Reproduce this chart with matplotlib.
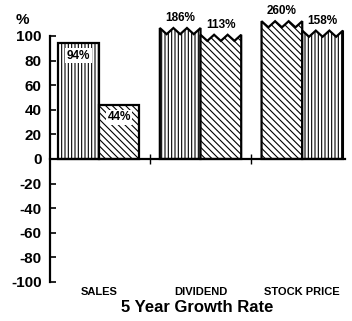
import numpy as np
import matplotlib.pyplot as plt
from matplotlib.patches import Polygon
from matplotlib.transforms import blended_transform_factory

plt.rcParams['font.family'] = ['Liberation Sans', 'DejaVu Sans']
plt.rcParams['font.weight'] = 'bold'
plt.rcParams['hatch.linewidth'] = 0.8

categories = ["SALES", "DIVIDEND", "STOCK PRICE"]
first_values = [94, 186, 260]
second_values = [44, 113, 158]
y_ticks = [-100, -80, -60, -40, -20, 0, 20, 40, 60, 80, 100]

VERT = '|||||'
DIAG = '\\' * 5
first_hatch = [VERT, VERT, DIAG]
second_hatch = [DIAG, DIAG, VERT]

width = 0.4
cap = 100


def shown(v):
    # values over the scale are squeezed into a short broken top
    return v if v <= cap else cap + (v - cap) * 0.075


def outline(x0, v):
    h = shown(v)
    if v <= cap:
        return [(x0, 0), (x0, h), (x0 + width, h), (x0 + width, 0)]
    xs = np.linspace(x0, x0 + width, 7)
    ys = [h if i % 2 == 0 else h - 5 for i in range(7)]
    return [(x0, 0)] + list(zip(xs, ys)) + [(x0 + width, 0)]


fig = plt.figure(figsize=(3.52, 3.21), dpi=100)
ax = fig.add_axes([0.142, 0.1215, 0.838, 0.824])

for i, cat in enumerate(categories):
    for j, (v, hatch) in enumerate([(first_values[i], first_hatch[i]),
                                     (second_values[i], second_hatch[i])]):
        x0 = i - width + j * width
        ax.add_patch(Polygon(outline(x0, v), closed=True, facecolor='white',
                             edgecolor='black', hatch=hatch, linewidth=1.6))
        label = f"{v}%"
        if v <= cap:
            ax.text(x0 + width / 2, shown(v) - 10, label, ha='center',
                    va='center', fontsize=8.5,
                    bbox=dict(facecolor='white', edgecolor='none', pad=1))
        else:
            ax.text(x0 + width / 2, shown(v) + 3, label, ha='center',
                    va='bottom', fontsize=8.5, clip_on=False)

ax.set_xlim(-0.48, 2.42)
ax.set_ylim(-100, 115)

for side in ['top', 'right']:
    ax.spines[side].set_visible(False)
ax.spines['left'].set_bounds(-100, 100)
ax.spines['left'].set_linewidth(1.6)
ax.spines['bottom'].set_position(('data', 0))
ax.spines['bottom'].set_linewidth(1.6)

ax.set_yticks(y_ticks)
ax.set_yticklabels([str(t) for t in y_ticks], fontsize=11)
ax.tick_params(axis='y', direction='in', length=4, width=1.2, pad=6)
ax.set_xticks([0.5, 1.5])
ax.set_xticklabels([])
ax.tick_params(axis='x', direction='inout', length=7, width=1.0)

trans = blended_transform_factory(ax.transData, ax.transAxes)
for i, cat in enumerate(categories):
    ax.text(i, -0.038, cat, transform=trans, ha='center', va='center',
            fontsize=8)
fig.text(0.56, 1 - 307 / 321, "5 Year Growth Rate", ha='center',
         va='center', fontsize=12)
fig.text(0.0625, 1 - 20 / 321, "%", ha='center', va='center', fontsize=11)

fig.savefig("out.png", dpi=100)
